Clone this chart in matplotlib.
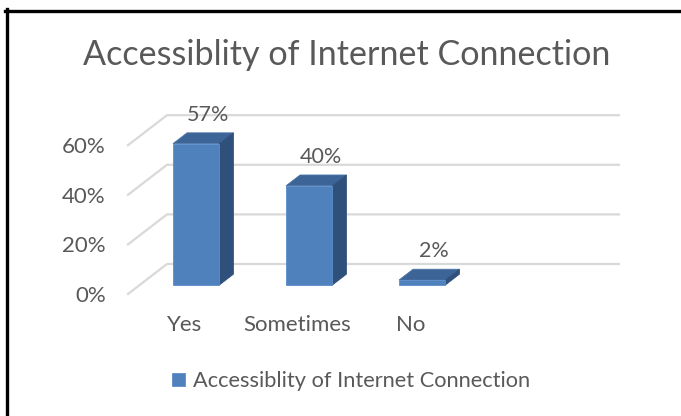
import matplotlib
matplotlib.use('Agg')
import matplotlib.pyplot as plt
from matplotlib.patches import Polygon
from matplotlib.lines import Line2D

plt.rcParams['font.family'] = ['Lato', 'DejaVu Sans']

categories = ['Yes', 'Sometimes', 'No']
values = [57, 40, 2]
value_labels = ['57%', '40%', '2%']
grid_ticks = [0, 20, 40, 60]
tick_labels = ['0%', '20%', '40%', '60%']
series_name = 'Accessiblity of Internet Connection'
title = 'Accessiblity of Internet Connection'

TEXT = '#595959'
GRID = '#d9d9d9'
FRONT = '#4f81bd'
TOP = '#3d6496'
SIDE = '#30507c'

W, H = 681, 416
fig = plt.figure(figsize=(W / 100, H / 100), dpi=100, facecolor='white')

# plot area: front plane, 2.48 px per percent
ax_left, ax_w = 128, 452
ax_bottom_px, ax_top_px = 294, 46
ax = fig.add_axes([ax_left / W, (H - ax_bottom_px) / H, ax_w / W,
                   (ax_bottom_px - ax_top_px) / H])
ax.set_xlim(-0.5, 3.5)
ax.set_ylim(0, 100)
ax.patch.set_alpha(0)
for s in ax.spines.values():
    s.set_visible(False)

# depth vector of the 3D box (data units)
DX, DY = 0.345, 12.1
f0, f1 = 0.3, 0.66
half = 0.205

# back wall gridlines + side wall diagonals
for g in grid_ticks:
    ax.plot([-0.5, -0.5 + DX, 3.5 + DX], [g, g + DY, g + DY],
            color=GRID, lw=1.6, clip_on=False, zorder=1)

for i, v in enumerate(values):
    xl, xr = i - half, i + half
    front = Polygon([(xl + f0 * DX, f0 * DY), (xr + f0 * DX, f0 * DY),
                     (xr + f0 * DX, v + f0 * DY), (xl + f0 * DX, v + f0 * DY)],
                    closed=True, fc=FRONT, ec='#5b8cc8', lw=0.6, zorder=4,
                    clip_on=False, label=series_name if i == 0 else None)
    top = Polygon([(xl + f0 * DX, v + f0 * DY), (xr + f0 * DX, v + f0 * DY),
                   (xr + f1 * DX, v + f1 * DY), (xl + f1 * DX, v + f1 * DY)],
                  closed=True, fc=TOP, ec='#4a73a8', lw=0.6, zorder=3, clip_on=False)
    side = Polygon([(xr + f0 * DX, f0 * DY), (xr + f1 * DX, f1 * DY),
                    (xr + f1 * DX, v + f1 * DY), (xr + f0 * DX, v + f0 * DY)],
                   closed=True, fc=SIDE, ec=SIDE, lw=0.6, zorder=3, clip_on=False)
    for p in (front, top, side):
        ax.add_patch(p)
    ax.annotate(value_labels[i], (i + 0.21, v + f1 * DY), xytext=(0, 6),
                textcoords='offset points', ha='center', va='bottom',
                fontsize=15.5, color=TEXT, zorder=5)

ax.set_yticks(grid_ticks)
ax.set_yticklabels(tick_labels)
ax.set_xticks(range(len(categories)))
ax.set_xticklabels(categories)
ax.tick_params(axis='y', length=0, pad=16, labelsize=16, labelcolor=TEXT)
ax.tick_params(axis='x', length=0, pad=15, labelsize=16, labelcolor=TEXT)

fig.text(347 / W, 1 - 55 / H, title, ha='center', va='center',
         fontsize=24.6, color=TEXT)

fig.legend(loc='center', bbox_to_anchor=(351 / W, 1 - 381 / H), frameon=False,
           fontsize=15.7, labelcolor=TEXT, handlelength=0.58, handleheight=0.58,
           handletextpad=0.35)

# chart border (top and left edges)
fig.add_artist(Line2D([5 / W, 1], [1 - 10.5 / H, 1 - 10.5 / H],
                      transform=fig.transFigure, color='black', lw=2.4))
fig.add_artist(Line2D([6.5 / W, 6.5 / W], [0, 1 - 9 / H],
                      transform=fig.transFigure, color='black', lw=2.4))

fig.savefig('out.png', dpi=100, facecolor='white')
